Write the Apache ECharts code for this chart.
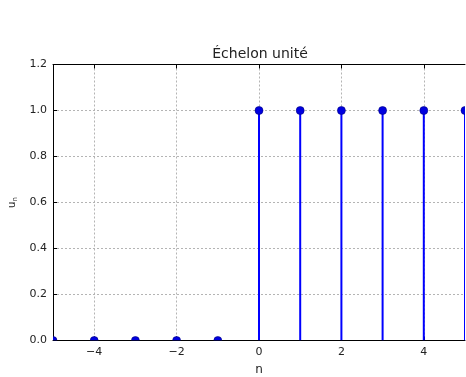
<!DOCTYPE html>
<html>
<head>
<meta charset="utf-8">
<script src="https://cdn.jsdelivr.net/npm/echarts@6/dist/echarts.min.js"></script>
<style>
  html, body { margin: 0; padding: 0; background: #ffffff; }
  #chart { width: 466px; height: 377px; }
</style>
</head>
<body>
<div id="chart"></div>
<script>
// Discrete unit step u[n] sampled on n = -5..5
const nValues = [-5, -4, -3, -2, -1, 0, 1, 2, 3, 4, 5];
const uValues = [0, 0, 0, 0, 0, 1, 1, 1, 1, 1, 1];
const xTickValues = [-4, -2, 0, 2, 4];
const titleText = 'Échelon unité';

const FONT = 'DejaVu Sans';
const stemData = nValues.map((n, i) => [n, uValues[i]]);

const chart = echarts.init(document.getElementById('chart'), null, { renderer: 'canvas' });

const gridLine = { show: true, lineStyle: { color: '#b4b4b4', type: [2, 2], width: 1 } };

chart.setOption({
  animation: false,
  backgroundColor: '#ffffff',
  title: {
    text: titleText,
    left: 260,
    top: 47,
    textAlign: 'center',
    padding: 0,
    textStyle: { fontFamily: FONT, fontSize: 14, fontWeight: 'normal', color: '#222' }
  },
  grid: {
    left: 53, right: 1, top: 64.5, bottom: 36.5,
    containLabel: false,
    outerBoundsMode: 'none'
  },
  xAxis: [
    {
      type: 'value',
      min: -5,
      max: 5,
      name: 'n',
      nameLocation: 'middle',
      nameGap: 23,
      nameTextStyle: { fontFamily: FONT, fontSize: 12, color: '#222' },
      axisLine: { onZero: false, lineStyle: { color: '#000', width: 1 } },
      axisTick: { show: true, inside: true, length: 4, customValues: xTickValues, lineStyle: { color: '#000' } },
      axisLabel: {
        customValues: xTickValues,
        margin: 6,
        fontFamily: FONT, fontSize: 11, color: '#222',
        formatter: v => (v < 0 ? '\u2212' + Math.abs(v) : String(v))
      },
      splitLine: gridLine
    },
    {
      type: 'value',
      position: 'top',
      min: -5,
      max: 5,
      axisLine: { onZero: false, lineStyle: { color: '#000', width: 1 } },
      axisTick: { show: true, inside: true, length: 4, customValues: xTickValues, lineStyle: { color: '#000' } },
      axisLabel: { show: false },
      splitLine: { show: false }
    }
  ],
  yAxis: {
    type: 'value',
    min: 0,
    max: 1.2,
    interval: 0.2,
    name: '{u|u}{s|n}',
    nameLocation: 'middle',
    nameGap: 34,
    nameRotate: 90,
    nameTextStyle: {
      rich: {
        u: { fontFamily: FONT, fontSize: 10, color: '#222' },
        s: { fontFamily: FONT, fontSize: 7, color: '#222', padding: [6, 0, 0, 0] }
      }
    },
    axisLine: { show: true, onZero: false, lineStyle: { color: '#000', width: 1 } },
    axisTick: { show: true, inside: true, length: 4, lineStyle: { color: '#000' } },
    axisLabel: {
      margin: 6,
      fontFamily: FONT, fontSize: 11, color: '#222',
      formatter: v => v.toFixed(1)
    },
    splitLine: gridLine
  },
  series: [
    {
      type: 'custom',
      name: 'u[n]',
      clip: true,
      z: 1,
      data: stemData,
      encode: { x: 0, y: 1 },
      renderItem: function (params, api) {
        const base = api.coord([api.value(0), 0]);
        const tip = api.coord([api.value(0), api.value(1)]);
        const cs = params.coordSys;
        return {
          type: 'group',
          // stems and markers are cut at the plot frame
          clipPath: {
            type: 'rect',
            shape: { x: cs.x, y: cs.y, width: cs.width, height: cs.height }
          },
          children: [
            {
              type: 'line',
              shape: { x1: base[0], y1: base[1], x2: tip[0], y2: tip[1] },
              style: { stroke: '#0000ff', lineWidth: 2 }
            },
            {
              type: 'circle',
              shape: { cx: tip[0], cy: tip[1], r: 4 },
              style: { fill: '#0000e0', stroke: '#000080', lineWidth: 0.6 }
            }
          ]
        };
      }
    }
  ]
});
</script>
</body>
</html>
